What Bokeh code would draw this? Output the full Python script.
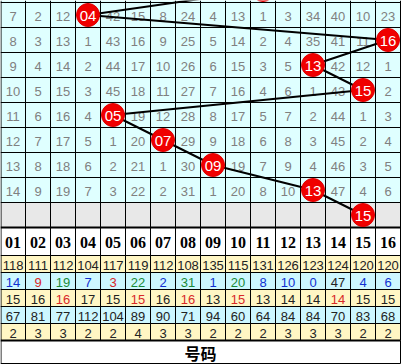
from bokeh.plotting import figure
from bokeh.models import Range1d
from bokeh.core.properties import value
from bokeh.embed import file_html
from bokeh.resources import INLINE

# ---------------- data ----------------
columns = ["01", "02", "03", "04", "05", "06", "07", "08",
           "09", "10", "11", "12", "13", "14", "15", "16"]

# omission table (None = drawn number shown as a ball)
grid_rows = [
    [7, 2, 12, None, 42, 15, 8, 24, 4, 13, 1, 3, 34, 40, 10, 23],
    [8, 3, 13, 1, 43, 16, 9, 25, 5, 14, 2, 4, 35, 41, 11, None],
    [9, 4, 14, 2, 44, 17, 10, 26, 6, 15, 3, 5, None, 42, 12, 1],
    [10, 5, 15, 3, 45, 18, 11, 27, 7, 16, 4, 6, 1, 43, None, 2],
    [11, 6, 16, 4, None, 19, 12, 28, 8, 17, 5, 7, 2, 44, 1, 3],
    [12, 7, 17, 5, 1, 20, None, 29, 9, 18, 6, 8, 3, 45, 2, 4],
    [13, 8, 18, 6, 2, 21, 1, 30, None, 19, 7, 9, 4, 46, 3, 5],
    [14, 9, 19, 7, 3, 22, 2, 31, 1, 20, 8, 10, None, 47, 4, 6],
]
# drawn number per row: previous (cut-off) row, 8 table rows, forecast row
balls = [11, 4, 16, 13, 15, 5, 7, 9, 13, 15]

stat_total = [118, 111, 112, 104, 117, 119, 112, 108, 135, 115, 131, 126, 123, 124, 120, 120]
stat_current = [14, 9, 19, 7, 3, 22, 2, 31, 1, 20, 8, 10, 0, 47, 4, 6]
stat_current_color = ["b", "r", "g", "b", "r", "g", "b", "g", "b", "g", "b", "b", "b", "k", "b", "b"]
stat_avg = [15, 16, 16, 17, 15, 15, 16, 16, 13, 15, 13, 14, 14, 14, 15, 15]
stat_avg_color = ["k", "k", "r", "k", "k", "r", "k", "r", "k", "r", "k", "k", "k", "r", "k", "k"]
stat_max = [67, 81, 77, 112, 104, 89, 90, 71, 94, 60, 64, 84, 84, 70, 83, 68]
stat_run = [2, 3, 3, 2, 2, 4, 3, 3, 2, 2, 2, 3, 3, 3, 2, 2]
footer_label = "号码"

# ---------------- layout / style ----------------
W, H = 403, 364
CW = 25            # column width
RH = 25            # table row height
TOP = 2            # top of first table row
NCOL = len(columns)
HEAD_TOP = TOP + RH * (len(grid_rows) + 1)   # 227
HEAD_BOT = 255
SH = 17
FOOT_TOP = HEAD_BOT + SH * 5                  # 340
FOOT_BOT = 363
GRID_R = CW * NCOL

CYAN = "#DFFFFF"
GRAY = "#E8E8E8"
YELLOW = "#FFF6C4"
BLUE = "#CDF7FF"
cmap = {"b": "#1030D0", "r": "#D82828", "g": "#1A8A3A", "k": "#222222"}

p = figure(width=W, height=H, output_backend="svg", toolbar_location=None,
           x_range=Range1d(0, W), y_range=Range1d(H, 0), min_border=0)
p.axis.visible = False
p.grid.visible = False
p.outline_line_color = None
p.background_fill_color = "white"
p.border_fill_color = "white"

# ---- cell backgrounds ----
L, R, T, B, C = [], [], [], [], []
for i in range(-1, len(grid_rows)):
    for c in range(NCOL):
        L.append(c * CW); R.append((c + 1) * CW)
        T.append(TOP + RH * i); B.append(TOP + RH * (i + 1)); C.append(CYAN)
gi = len(grid_rows)
for c in range(NCOL):
    L.append(c * CW); R.append((c + 1) * CW)
    T.append(TOP + RH * gi); B.append(TOP + RH * (gi + 1)); C.append(GRAY)
for c in range(NCOL):
    L.append(c * CW); R.append((c + 1) * CW)
    T.append(HEAD_TOP); B.append(HEAD_BOT); C.append("white")
for k in range(5):
    col = YELLOW if k % 2 == 0 else BLUE
    for c in range(NCOL):
        L.append(c * CW); R.append((c + 1) * CW)
        T.append(HEAD_BOT + SH * k); B.append(HEAD_BOT + SH * (k + 1)); C.append(col)
L.append(0); R.append(GRID_R); T.append(FOOT_TOP); B.append(FOOT_BOT); C.append("white")
p.quad(left=L, right=R, top=T, bottom=B, fill_color=C, line_color=None)

# ---- grid lines ----
x0s, y0s, x1s, y1s, ws = [], [], [], [], []
for i in range(0, len(grid_rows) + 1):
    y = TOP + RH * i
    x0s.append(0); x1s.append(GRID_R); y0s.append(y); y1s.append(y); ws.append(1)
x0s.append(0); x1s.append(GRID_R); y0s.append(HEAD_TOP); y1s.append(HEAD_TOP); ws.append(2)
for k in range(5):
    y = HEAD_BOT + SH * k
    x0s.append(0); x1s.append(GRID_R); y0s.append(y); y1s.append(y); ws.append(1)
x0s.append(0); x1s.append(GRID_R); y0s.append(FOOT_TOP); y1s.append(FOOT_TOP); ws.append(2)
x0s.append(0); x1s.append(GRID_R); y0s.append(FOOT_BOT); y1s.append(FOOT_BOT); ws.append(1)
for c in range(NCOL + 1):
    x = c * CW + (0.5 if c == 0 else 0)
    x0s.append(x); x1s.append(x); y0s.append(0); y1s.append(FOOT_TOP); ws.append(1)
for x in (0.5, GRID_R):
    x0s.append(x); x1s.append(x); y0s.append(FOOT_TOP); y1s.append(FOOT_BOT); ws.append(1)
p.segment(x0=x0s, y0=y0s, x1=x1s, y1=y1s, line_color="black", line_width=ws)

# ---- table numbers ----
tx, ty, tt = [], [], []
for i, row in enumerate(grid_rows):
    for c, v in enumerate(row):
        if v is None:
            continue
        tx.append(c * CW + CW / 2); ty.append(TOP + RH * i + RH / 2 + 1); tt.append(str(v))
p.text(x=tx, y=ty, text=tt, text_align="center", text_baseline="middle",
       text_font=value("Liberation Sans"), text_font_size="13px", text_color="#808080")

# ---- connecting line and balls ----
bx = [(b - 1) * CW + CW / 2 for b in balls]
by = [TOP + RH * (i - 1) + RH / 2 for i in range(len(balls))]
p.line(bx, by, line_color="black", line_width=2)
p.circle(x=bx, y=by, radius=11.5, fill_color="#F00000", line_color="#E00000")
# labels only for balls inside the visible table (the first one is cut off)
p.text(x=bx[1:], y=[y + 1 for y in by[1:]], text=["%02d" % b for b in balls[1:]],
       text_align="center", text_baseline="middle", text_font=value("Liberation Sans"),
       text_font_size="15px", text_color="white")

# ---- header ----
p.text(x=[c * CW + CW / 2 for c in range(NCOL)], y=[(HEAD_TOP + HEAD_BOT) / 2 + 1] * NCOL,
       text=columns, text_align="center", text_baseline="middle",
       text_font=value("Liberation Serif"), text_font_style="bold",
       text_font_size="16px", text_color="black")

# ---- stats ----
stat_rows = [
    (stat_total, ["k"] * NCOL),
    (stat_current, stat_current_color),
    (stat_avg, stat_avg_color),
    (stat_max, ["k"] * NCOL),
    (stat_run, ["k"] * NCOL),
]
sx, sy, st, sc = [], [], [], []
for k, (vals, cols) in enumerate(stat_rows):
    for c, v in enumerate(vals):
        sx.append(c * CW + CW / 2); sy.append(HEAD_BOT + SH * k + SH / 2 + 1)
        st.append(str(v)); sc.append(cmap[cols[c]])
p.text(x=sx, y=sy, text=st, text_color=sc, text_align="center", text_baseline="middle",
       text_font=value("Liberation Sans"), text_font_size="13px")

# ---- footer ----
p.text(x=[GRID_R / 2], y=[(FOOT_TOP + FOOT_BOT) / 2 + 1], text=[footer_label],
       text_align="center", text_baseline="middle",
       text_font=value("Noto Sans CJK SC"), text_font_style="bold",
       text_font_size="16px", text_color="black")

open("out.html", "w").write(file_html(p, INLINE))
